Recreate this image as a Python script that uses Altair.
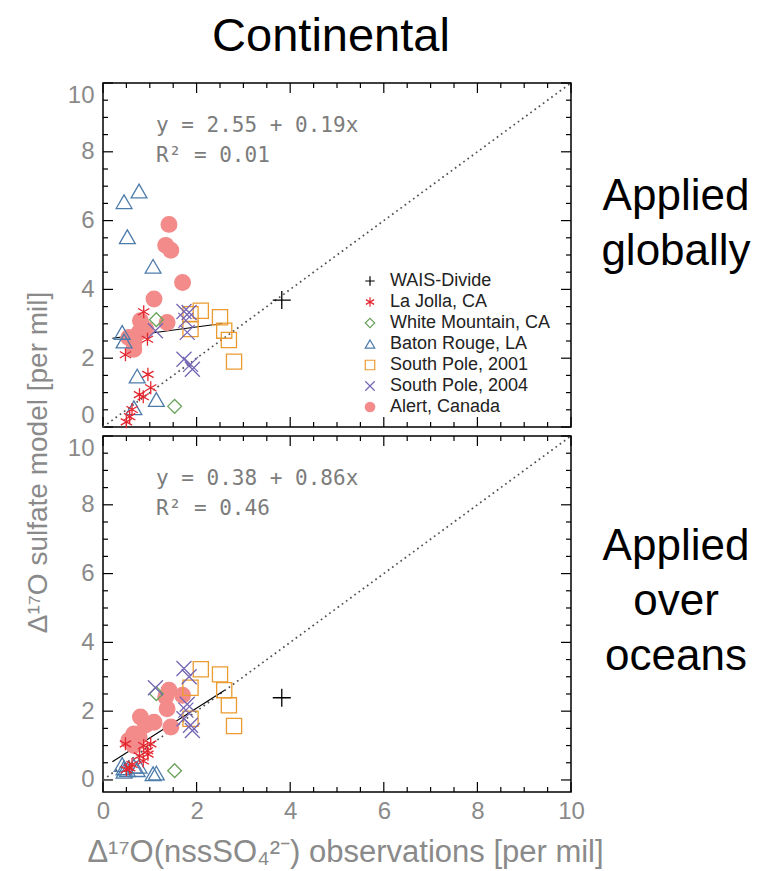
import altair as alt
import pandas as pd

# ---------------- data ----------------
sites = ["WAIS-Divide", "La Jolla, CA", "White Mountain, CA", "Baton Rouge, LA",
         "South Pole, 2001", "South Pole, 2004", "Alert, Canada"]

wais_x = [3.82]
wais_global = [3.69]
wais_ocean = [2.39]

lajolla_x = [0.87, 0.95, 0.48, 0.96, 1.02, 0.78, 0.86, 0.62, 0.57, 0.50]
lajolla_global = [3.35, 2.55, 2.10, 1.53, 1.14, 0.94, 0.88, 0.51, 0.30, 0.15]
lajolla_ocean = [1.00, 0.85, 1.05, 0.75, 1.05, 0.70, 0.55, 0.45, 0.35, 0.30]

whitemtn_x = [1.14, 1.53]
whitemtn_global = [3.12, 0.60]
whitemtn_ocean = [2.51, 0.27]

baton_x = [0.45, 0.77, 0.52, 1.07, 0.41, 0.45, 0.73, 1.14, 0.66]
baton_global = [6.55, 6.86, 5.53, 4.67, 2.75, 2.50, 1.48, 0.80, 0.56]
baton_ocean = [0.35, 0.40, 0.30, 0.18, 0.45, 0.25, 0.30, 0.20, 0.40]

sp2001_x = [2.09, 1.87, 2.50, 2.59, 2.69, 2.80, 1.87]
sp2001_global = [3.38, 3.28, 3.19, 2.80, 2.53, 1.90, 2.85]
sp2001_ocean = [3.22, 2.68, 3.07, 2.61, 2.17, 1.57, 1.78]

sp2004_x = [1.73, 1.84, 1.77, 1.80, 1.73, 1.87, 1.91, 1.12]
sp2004_global = [3.36, 3.33, 3.10, 2.75, 1.97, 1.82, 1.68, 2.80]
sp2004_ocean = [3.24, 3.00, 2.03, 2.20, 1.78, 1.59, 1.44, 2.68]

alert_x = [1.41, 1.34, 1.45, 1.70, 1.09, 1.37, 0.80, 0.77, 0.91, 0.55, 0.66, 0.66]
alert_global = [5.89, 5.28, 5.14, 4.20, 3.72, 3.04, 3.09, 2.75, 2.85, 2.60, 2.46, 2.26]
alert_ocean = [2.61, 2.42, 1.54, 2.46, 1.68, 2.07, 1.83, 1.25, 1.60, 1.15, 1.34, 1.00]

fit_global_x = [0.20, 2.55]
fit_global_y = [2.58, 3.01]
fit_ocean_x = [0.20, 2.60]
fit_ocean_y = [0.53, 2.61]
one_to_one = [0, 10]

eq_global = ["y = 2.55 + 0.19x", "R² = 0.01"]
eq_ocean = ["y = 0.38 + 0.86x", "R² = 0.46"]
label_global = ["Applied", "globally"]
label_ocean = ["Applied", "over", "oceans"]

major_ticks = [0, 2, 4, 6, 8, 10]
minor_ticks = [0.5, 1, 1.5, 2.5, 3, 3.5, 4.5, 5, 5.5, 6.5, 7, 7.5, 8.5, 9, 9.5]

# ---------------- styles ----------------
PLUS = "M-1,0L1,0M0,-1L0,1"
STAR = "M0,-1L0,1M-0.866,-0.5L0.866,0.5M-0.866,0.5L0.866,-0.5"
CROSS = "M-1,-1L1,1M-1,1L1,-1"
shapes = [PLUS, STAR, "diamond", "triangle-up", "square", CROSS, "circle"]
stroke_colors = ["#000000", "#e3262f", "#6aa35c", "#4d7cab", "#eb9b2f", "#7566b3", "#f38b8b"]
fill_colors = ["transparent"] * 6 + ["#f38b8b"]
sizes = {"WAIS-Divide": 324, "La Jolla, CA": 170, "White Mountain, CA": 190,
         "Baton Rouge, LA": 250, "South Pole, 2001": 230, "South Pole, 2004": 225,
         "Alert, Canada": 245}
draw_order = ["Alert, Canada", "WAIS-Divide", "White Mountain, CA", "Baton Rouge, LA",
              "South Pole, 2001", "South Pole, 2004", "La Jolla, CA"]

W = 468
GRAY = "#8a8a8a"

xs_by_site = dict(zip(sites, [wais_x, lajolla_x, whitemtn_x, baton_x, sp2001_x, sp2004_x, alert_x]))
yg_by_site = dict(zip(sites, [wais_global, lajolla_global, whitemtn_global, baton_global,
                              sp2001_global, sp2004_global, alert_global]))
yo_by_site = dict(zip(sites, [wais_ocean, lajolla_ocean, whitemtn_ocean, baton_ocean,
                              sp2001_ocean, sp2004_ocean, alert_ocean]))


def make_df(ymap):
    rows = []
    for s in sites:
        for x, y in zip(xs_by_site[s], ymap[s]):
            rows.append({"site": s, "x": x, "y": y})
    return pd.DataFrame(rows)


def panel(df, fit_x, fit_y, eq_lines, side_lines, H, ydom, top):
    xs = alt.Scale(domain=[0, 10], nice=False, zero=False)
    ys = alt.Scale(domain=ydom, nice=False, zero=False)
    if top:
        xaxis = None
        yaxis = alt.Axis(values=major_ticks, ticks=False, domain=False, grid=False,
                         labelFlush=True, labelPadding=9,
                         title="Δ¹⁷O sulfate model [per mil]", titleFontSize=28,
                         titleAngle=270, titleAlign="center", titleBaseline="middle",
                         titleX=-65, titleY=379)
    else:
        xaxis = alt.Axis(values=major_ticks, ticks=False, domain=False, grid=False,
                         labelFlush=False, labelPadding=7,
                         title="Δ¹⁷O(nssSO₄²⁻) observations [per mil]", titleFontSize=31,
                         titleAlign="center", titleBaseline="middle",
                         titleX=242, titleY=60)
        yaxis = alt.Axis(values=major_ticks, ticks=False, domain=False, grid=False,
                         labelFlush=5, labelPadding=9, title=None)
    X = alt.X("x:Q", scale=xs, axis=xaxis)
    Y = alt.Y("y:Q", scale=ys, axis=yaxis)

    layers = []
    # inward ticks on all four sides
    for vals, L in ((major_ticks, 10), (minor_ticks, 5)):
        tdf = pd.DataFrame({"x": vals, "y": vals})
        base = alt.Chart(tdf).mark_rule(color="black", strokeWidth=1.2)
        layers.append(base.encode(x=X, y=alt.value(H), y2=alt.value(H - L)))
        layers.append(base.encode(x=X, y=alt.value(0), y2=alt.value(L)))
        layers.append(base.encode(y=Y, x=alt.value(0), x2=alt.value(L)))
        layers.append(base.encode(y=Y, x=alt.value(W), x2=alt.value(W - L)))

    # 1:1 line
    layers.append(alt.Chart(pd.DataFrame({"x": one_to_one, "y": one_to_one}))
                  .mark_line(color="#505050", strokeWidth=1.7, strokeDash=[1.7, 3.5])
                  .encode(x=X, y=Y))
    # fit line
    layers.append(alt.Chart(pd.DataFrame({"x": fit_x, "y": fit_y}))
                  .mark_line(color="black", strokeWidth=1.1)
                  .encode(x=X, y=Y))

    leg = None
    if top:
        leg = alt.Legend(title=None, orient="none", legendX=258, legendY=189,
                         symbolSize=90, symbolStrokeWidth=1.2, labelFont="Liberation Sans",
                         labelFontSize=18, labelColor="#222222", rowPadding=3,
                         labelOffset=11, padding=0, symbolOffset=0, labelLimit=400)
    shape_scale = alt.Scale(domain=sites, range=shapes)
    stroke_scale = alt.Scale(domain=sites, range=stroke_colors)
    fill_scale = alt.Scale(domain=sites, range=fill_colors)
    for s in draw_order:
        layers.append(
            alt.Chart(df).transform_filter(alt.datum.site == s)
            .mark_point(size=sizes[s], strokeWidth=1.3, opacity=1, filled=False)
            .encode(x=X, y=Y,
                    shape=alt.Shape("site:N", scale=shape_scale, legend=leg),
                    stroke=alt.Stroke("site:N", scale=stroke_scale, legend=leg),
                    fill=alt.Fill("site:N", scale=fill_scale, legend=leg))
        )

    one = pd.DataFrame({"k": [0]})
    layers.append(alt.Chart(one).mark_text(
        text=eq_lines, align="left", baseline="middle", lineHeight=30,
        font="DejaVu Sans Mono", fontSize=21, color="#7c7c7c")
        .encode(x=alt.value(53), y=alt.value(43)))
    layers.append(alt.Chart(one).mark_text(
        text=side_lines, align="center", baseline="middle", lineHeight=55,
        font="Liberation Sans", fontSize=44, color="black")
        .encode(x=alt.value(573), y=alt.value(114 if top else 111)))

    return alt.layer(*layers).properties(width=W, height=H)


top_chart = panel(make_df(yg_by_site), fit_global_x, fit_global_y, eq_global,
                  label_global, 344, [0, 10], True)
bot_chart = panel(make_df(yo_by_site), fit_ocean_x, fit_ocean_y, eq_ocean,
                  label_ocean, 356, [-0.35, 10], False)

chart = (
    alt.vconcat(top_chart, bot_chart, spacing=9, bounds="flush")
    .resolve_scale(x="independent", y="independent", shape="independent",
                   stroke="independent", fill="independent")
    .properties(
        title=alt.TitleParams("Continental", font="Liberation Sans", fontSize=47,
                              fontWeight="normal", color="black", anchor="middle",
                              frame="group", offset=-19, baseline="alphabetic", dx=-6),
        padding={"left": 23, "top": 12, "right": 5, "bottom": 5},
    )
    .configure_view(stroke="black", strokeWidth=1.5)
    .configure_axis(labelFont="Liberation Sans", labelFontSize=24, labelColor=GRAY,
                    titleFont="Liberation Sans", titleFontWeight="normal", titleColor=GRAY)
)

chart.save("out.html", embed_options={"renderer": "svg", "actions": False})
